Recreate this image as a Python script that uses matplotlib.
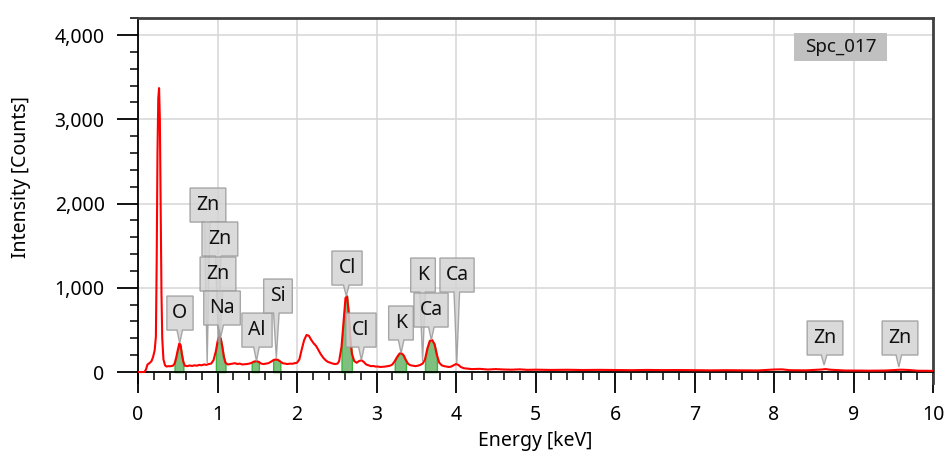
import numpy as np
import matplotlib
matplotlib.use('Agg')
import matplotlib.pyplot as plt
from matplotlib.patches import Polygon, Rectangle
from matplotlib.ticker import MultipleLocator, FuncFormatter

plt.rcParams['font.family'] = ['Noto Sans', 'DejaVu Sans']

# spectrum: energy [keV], counts
energy = np.array([
    0.00, 0.08, 0.10, 0.12, 0.15, 0.17, 0.19, 0.21, 0.225, 0.235, 0.245, 0.255, 0.265, 0.275,
    0.285, 0.295, 0.305, 0.32, 0.34, 0.36, 0.38, 0.40, 0.42, 0.44, 0.46, 0.48, 0.50, 0.52,
    0.535, 0.55, 0.57, 0.59, 0.62, 0.65, 0.68, 0.71, 0.74, 0.77, 0.80, 0.83, 0.86, 0.89,
    0.92, 0.95, 0.98, 1.00, 1.02, 1.04, 1.06, 1.08, 1.10, 1.13, 1.16, 1.19, 1.22, 1.25,
    1.28, 1.31, 1.34, 1.37, 1.40, 1.43, 1.46, 1.49, 1.52, 1.55, 1.58, 1.61, 1.64, 1.67,
    1.70, 1.73, 1.76, 1.79, 1.82, 1.85, 1.88, 1.91, 1.94, 1.97, 2.00, 2.03, 2.06, 2.09,
    2.12, 2.15, 2.18, 2.21, 2.24, 2.27, 2.30, 2.33, 2.36, 2.39, 2.42, 2.45, 2.48, 2.51,
    2.53, 2.56, 2.59, 2.61, 2.63, 2.65, 2.67, 2.69, 2.72, 2.75, 2.78, 2.81, 2.84, 2.87,
    2.90, 2.93, 2.96, 2.99, 3.02, 3.05, 3.08, 3.11, 3.14, 3.17, 3.20, 3.23, 3.26, 3.29,
    3.31, 3.34, 3.37, 3.40, 3.43, 3.46, 3.49, 3.52, 3.55, 3.58, 3.61, 3.64, 3.67, 3.70,
    3.73, 3.76, 3.79, 3.82, 3.85, 3.88, 3.91, 3.94, 3.97, 4.00, 4.03, 4.06, 4.10, 4.15,
    4.20, 4.30, 4.40, 4.50, 4.60, 4.70, 4.80, 4.90, 5.0, 5.2, 5.4, 5.6, 5.8, 6.0, 6.2,
    6.4, 6.6, 6.8, 7.0, 7.2, 7.4, 7.6, 7.8, 8.0, 8.1, 8.2, 8.4, 8.6, 8.65, 8.7, 8.9,
    9.0, 9.2, 9.4, 9.55, 9.6, 9.7, 9.8, 10.0])
counts = np.array([
    0, 0, 30, 90, 110, 130, 180, 260, 420, 1300, 2600, 3250, 3370, 3000,
    1900, 950, 400, 150, 80, 65, 70, 68, 72, 75, 100, 170, 260, 340,
    320, 220, 120, 75, 70, 78, 72, 80, 75, 85, 80, 90, 85, 95,
    100, 140, 250, 360, 420, 400, 300, 180, 110, 90, 95, 100, 105, 95,
    100, 90, 92, 95, 100, 110, 125, 130, 120, 100, 95, 100, 105, 120,
    140, 150, 145, 125, 105, 100, 95, 100, 98, 105, 110, 150, 270, 380,
    440, 430, 380, 340, 310, 260, 210, 170, 140, 120, 110, 100, 95, 100,
    130, 300, 650, 880, 900, 700, 400, 220, 130, 110, 130, 140, 120, 90,
    80, 70, 72, 65, 65, 60, 62, 65, 70, 75, 90, 130, 180, 220,
    225, 200, 140, 95, 80, 75, 70, 75, 85, 100, 150, 280, 370, 380,
    330, 200, 110, 80, 70, 65, 60, 65, 80, 95, 85, 60, 45, 40,
    35, 38, 30, 35, 30, 28, 32, 26, 28, 25, 27, 24, 26, 24, 22,
    25, 23, 24, 22, 20, 22, 20, 19, 30, 32, 22, 20, 30, 35, 28, 18,
    18, 16, 18, 25, 28, 24, 16, 14])

# integration windows shaded in green [keV]
win_lo = [0.45, 0.98, 1.41, 1.68, 2.54, 3.22, 3.60]
win_hi = [0.58, 1.10, 1.53, 1.81, 2.69, 3.38, 3.76]

# element markers: name, line energy, counts at the tip
lbl_name = ['O', 'Zn', 'Zn', 'Zn', 'Na', 'Al', 'Si', 'Cl', 'Cl', 'K', 'K', 'Ca', 'Ca', 'Zn', 'Zn']
lbl_energy = [0.525, 0.87, 1.01, 1.03, 1.04, 1.49, 1.74, 2.62, 2.81, 3.31, 3.58, 3.69, 4.01, 8.63, 9.57]
lbl_tip = [344, 107, 350, 340, 415, 130, 166, 902, 142, 225, 130, 380, 107, 83, 60]

# layout of the label boxes (centre in keV / counts)
box_x = [0.528, 0.88, 1.03, 1.006, 1.057, 1.497, 1.761, 2.629, 2.805, 3.308, 3.585, 3.686, 4.013, 8.642, 9.585]
box_y = [700, 1982, 1579, 1163, 760, 498, 902, 1234, 498, 582, 1151, 736, 1151, 404, 404]
box_w = {'O': 0.33, 'Zn': 0.45, 'Na': 0.46, 'Al': 0.38, 'Si': 0.36, 'Cl': 0.38, 'K': 0.31, 'Ca': 0.43}
box_h = 404

W, H = 947, 455
fig = plt.figure(figsize=(W / 100, H / 100), dpi=100)
ax = fig.add_axes([138 / W, 1 - 383 / H, (933 - 138) / W, (383 - 18) / H])
ax.set_xlim(0, 10)
ax.set_ylim(-130, 4202)

ax.grid(True, color='#d6d6d6', lw=1.1, zorder=0)
ax.set_axisbelow(True)

for lo, hi in zip(win_lo, win_hi):
    m = (energy >= lo) & (energy <= hi)
    ax.fill_between(energy[m], 0, counts[m], facecolor='#7fbf7f', edgecolor='#3cb43c',
                    lw=1.0, zorder=2)

ax.plot(energy, counts, color='red', lw=1.5, zorder=3)

# callout labels
for name, ex, ty, cx, cy in zip(lbl_name, lbl_energy, lbl_tip, box_x, box_y):
    w = box_w[name]
    x0, x1 = cx - w / 2, cx + w / 2
    y0, y1 = cy - box_h / 2, cy + box_h / 2
    half = 0.035
    b0 = min(max(ex - half, x0 + 0.01), x1 - 2 * half - 0.01)
    b1 = b0 + 2 * half
    poly = Polygon([(x0, y0), (b0, y0), (ex, ty), (b1, y0), (x1, y0), (x1, y1), (x0, y1)],
                   closed=True, facecolor='#d4d4d4', edgecolor='#9a9a9a', lw=1.0,
                   alpha=0.85, zorder=4)
    ax.add_patch(poly)
    ax.text(cx, cy, name, ha='center', va='center', fontsize=14, color='#111111', zorder=5)

# spectrum name box
ax.add_patch(Rectangle((8.25, 3690), 1.17, 332, facecolor='#c0c0c0', edgecolor='none', zorder=4))
ax.text(8.835, 3856, 'Spc_017', ha='center', va='center', fontsize=13.5, color='#111111', zorder=5)

for s in ['top', 'right']:
    ax.spines[s].set_color('#404040')
    ax.spines[s].set_linewidth(2.0)
ax.spines['bottom'].set_position(('data', 0))
ax.spines['bottom'].set_linewidth(1.3)
ax.spines['left'].set_linewidth(1.3)

ax.xaxis.set_major_locator(MultipleLocator(1))
ax.xaxis.set_minor_locator(MultipleLocator(0.2))
ax.yaxis.set_major_locator(MultipleLocator(1000))
ax.yaxis.set_minor_locator(MultipleLocator(200))
ax.yaxis.set_major_formatter(FuncFormatter(lambda v, p: '{:,.0f}'.format(v)))
ax.set_yticks([0, 1000, 2000, 3000, 4000])
ax.tick_params(axis='both', which='major', direction='out', length=15, width=1.3,
               labelsize=14, pad=9)
ax.tick_params(axis='both', which='minor', direction='out', length=5.5, width=1.1)

ax.set_xlabel('Energy [keV]', fontsize=14, labelpad=4)
ax.set_ylabel('Intensity [Counts]', fontsize=14)
ax.yaxis.set_label_coords(-0.135, 0.563)

fig.savefig('out.png', dpi=100)
